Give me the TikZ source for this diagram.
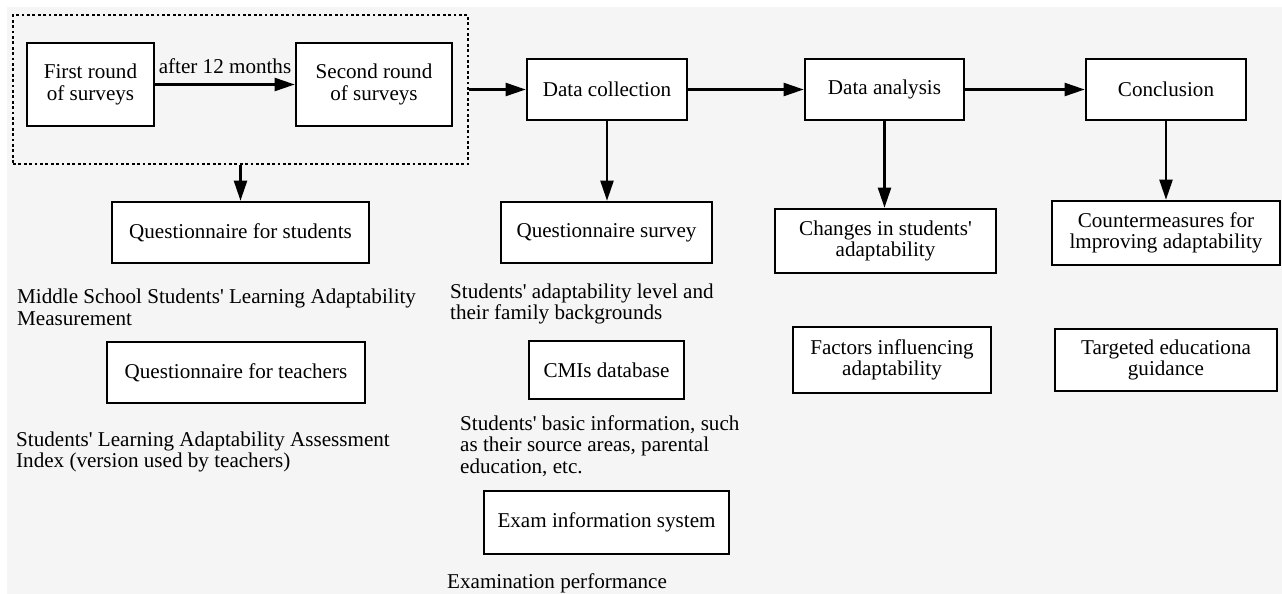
\documentclass[tikz,border=0pt]{standalone}
\usepackage{fontspec}
\setmainfont{Liberation Serif}[Ligatures=TeXOff]
\usepackage{tikz}
\usetikzlibrary{arrows.meta}
\usepackage{xcolor}
\definecolor{bggray}{RGB}{245,245,245}

\begin{document}
\begin{tikzpicture}[x=1pt, y=-1pt,
    font=\fontsize{21.1pt}{21.5pt}\selectfont,
    box/.style 2 args={draw, fill=white, line width=2.6pt, rectangle, align=center,
        inner sep=0pt, minimum width=#1pt, minimum height=#2pt},
    note/.style={anchor=west, align=left, inner sep=0pt},
    arr/.style={-{Triangle[length=20pt,width=13pt]}, line width=2.2pt}]
            \useasboundingbox (0,0) rectangle (1282,594);
            \fill[bggray] (7,7) rectangle (1282,594);

            % survey rounds
            \node[draw, line width=2.6pt, dash pattern=on 2.8pt off 2.6pt, inner sep=0pt,
                minimum width=455pt, minimum height=149pt] (rounds) at (240.5,89.5) {};
            \node[box={127}{83}] (first) at (90.5,84.5) {First round\\of surveys};
            \node[box={156}{83}] (second) at (374,84.5) {Second round\\of surveys};

            % main row
            \node[box={160}{61}] (collect) at (607,89.5) {Data collection};
            \node[box={159}{61}] (analysis) at (884.5,89.5) {Data analysis};
            \node[box={160}{61}] (concl) at (1166,89.5) {Conclusion};

            % questionnaires
            \node[box={257}{61}] (qstudents) at (240.5,232.5) {Questionnaire for students};
            \node[note] (stunote) at (17,307.5) {Middle School Students' Learning Adaptability\\Measurement};
            \node[box={258}{61}] (qteachers) at (236,372.5) {Questionnaire for teachers};
            \node[note] (teanote) at (16,452) {Students' Learning Adaptability Assessment\\Index (version used by teachers)};

            % data sources
            \node[box={211}{61}] (qsurvey) at (606.5,232.5) {Questionnaire survey};
            \node[note] (surnote) at (450,304) {Students' adaptability level and\\their family backgrounds};
            \node[box={155}{58}] (cmis) at (606.5,370) {CMIs database};
            \node[note] (cminote) at (460,446) {Students' basic information, such\\as their source areas, parental\\education, etc.};
            \node[box={245}{63}] (exam) at (606.5,522.5) {Exam information system};
            \node[note] (examnote) at (447,583) {Examination performance};

            % results
            \node[box={221}{64}] (changes) at (885.5,241) {Changes in students'\\adaptability};
            \node[box={198}{66}] (factors) at (892,360) {Factors influencing\\adaptability};
            \node[box={228}{64}] (counter) at (1166,233) {Countermeasures for\\lmproving adaptability};
            \node[box={222}{62}] (guide) at (1166,360) {Targeted educationa\\guidance};

            \draw[arr] (first) -- node[above=10pt, inner sep=0pt] (after) {after 12 months} (second);
            \draw[arr] (rounds.south) -- (qstudents.north);
            \draw[arr] (rounds.east) -- (collect.west);
            \draw[arr] (collect) -- (analysis);
            \draw[arr] (analysis) -- (concl);
            \draw[arr] (collect.south) -- (collect.south |- qsurvey.north);
            \draw[arr] (analysis.south) -- (analysis.south |- changes.north);
            \draw[arr] (concl.south) -- (counter.north);
        \end{tikzpicture}
\end{document}
